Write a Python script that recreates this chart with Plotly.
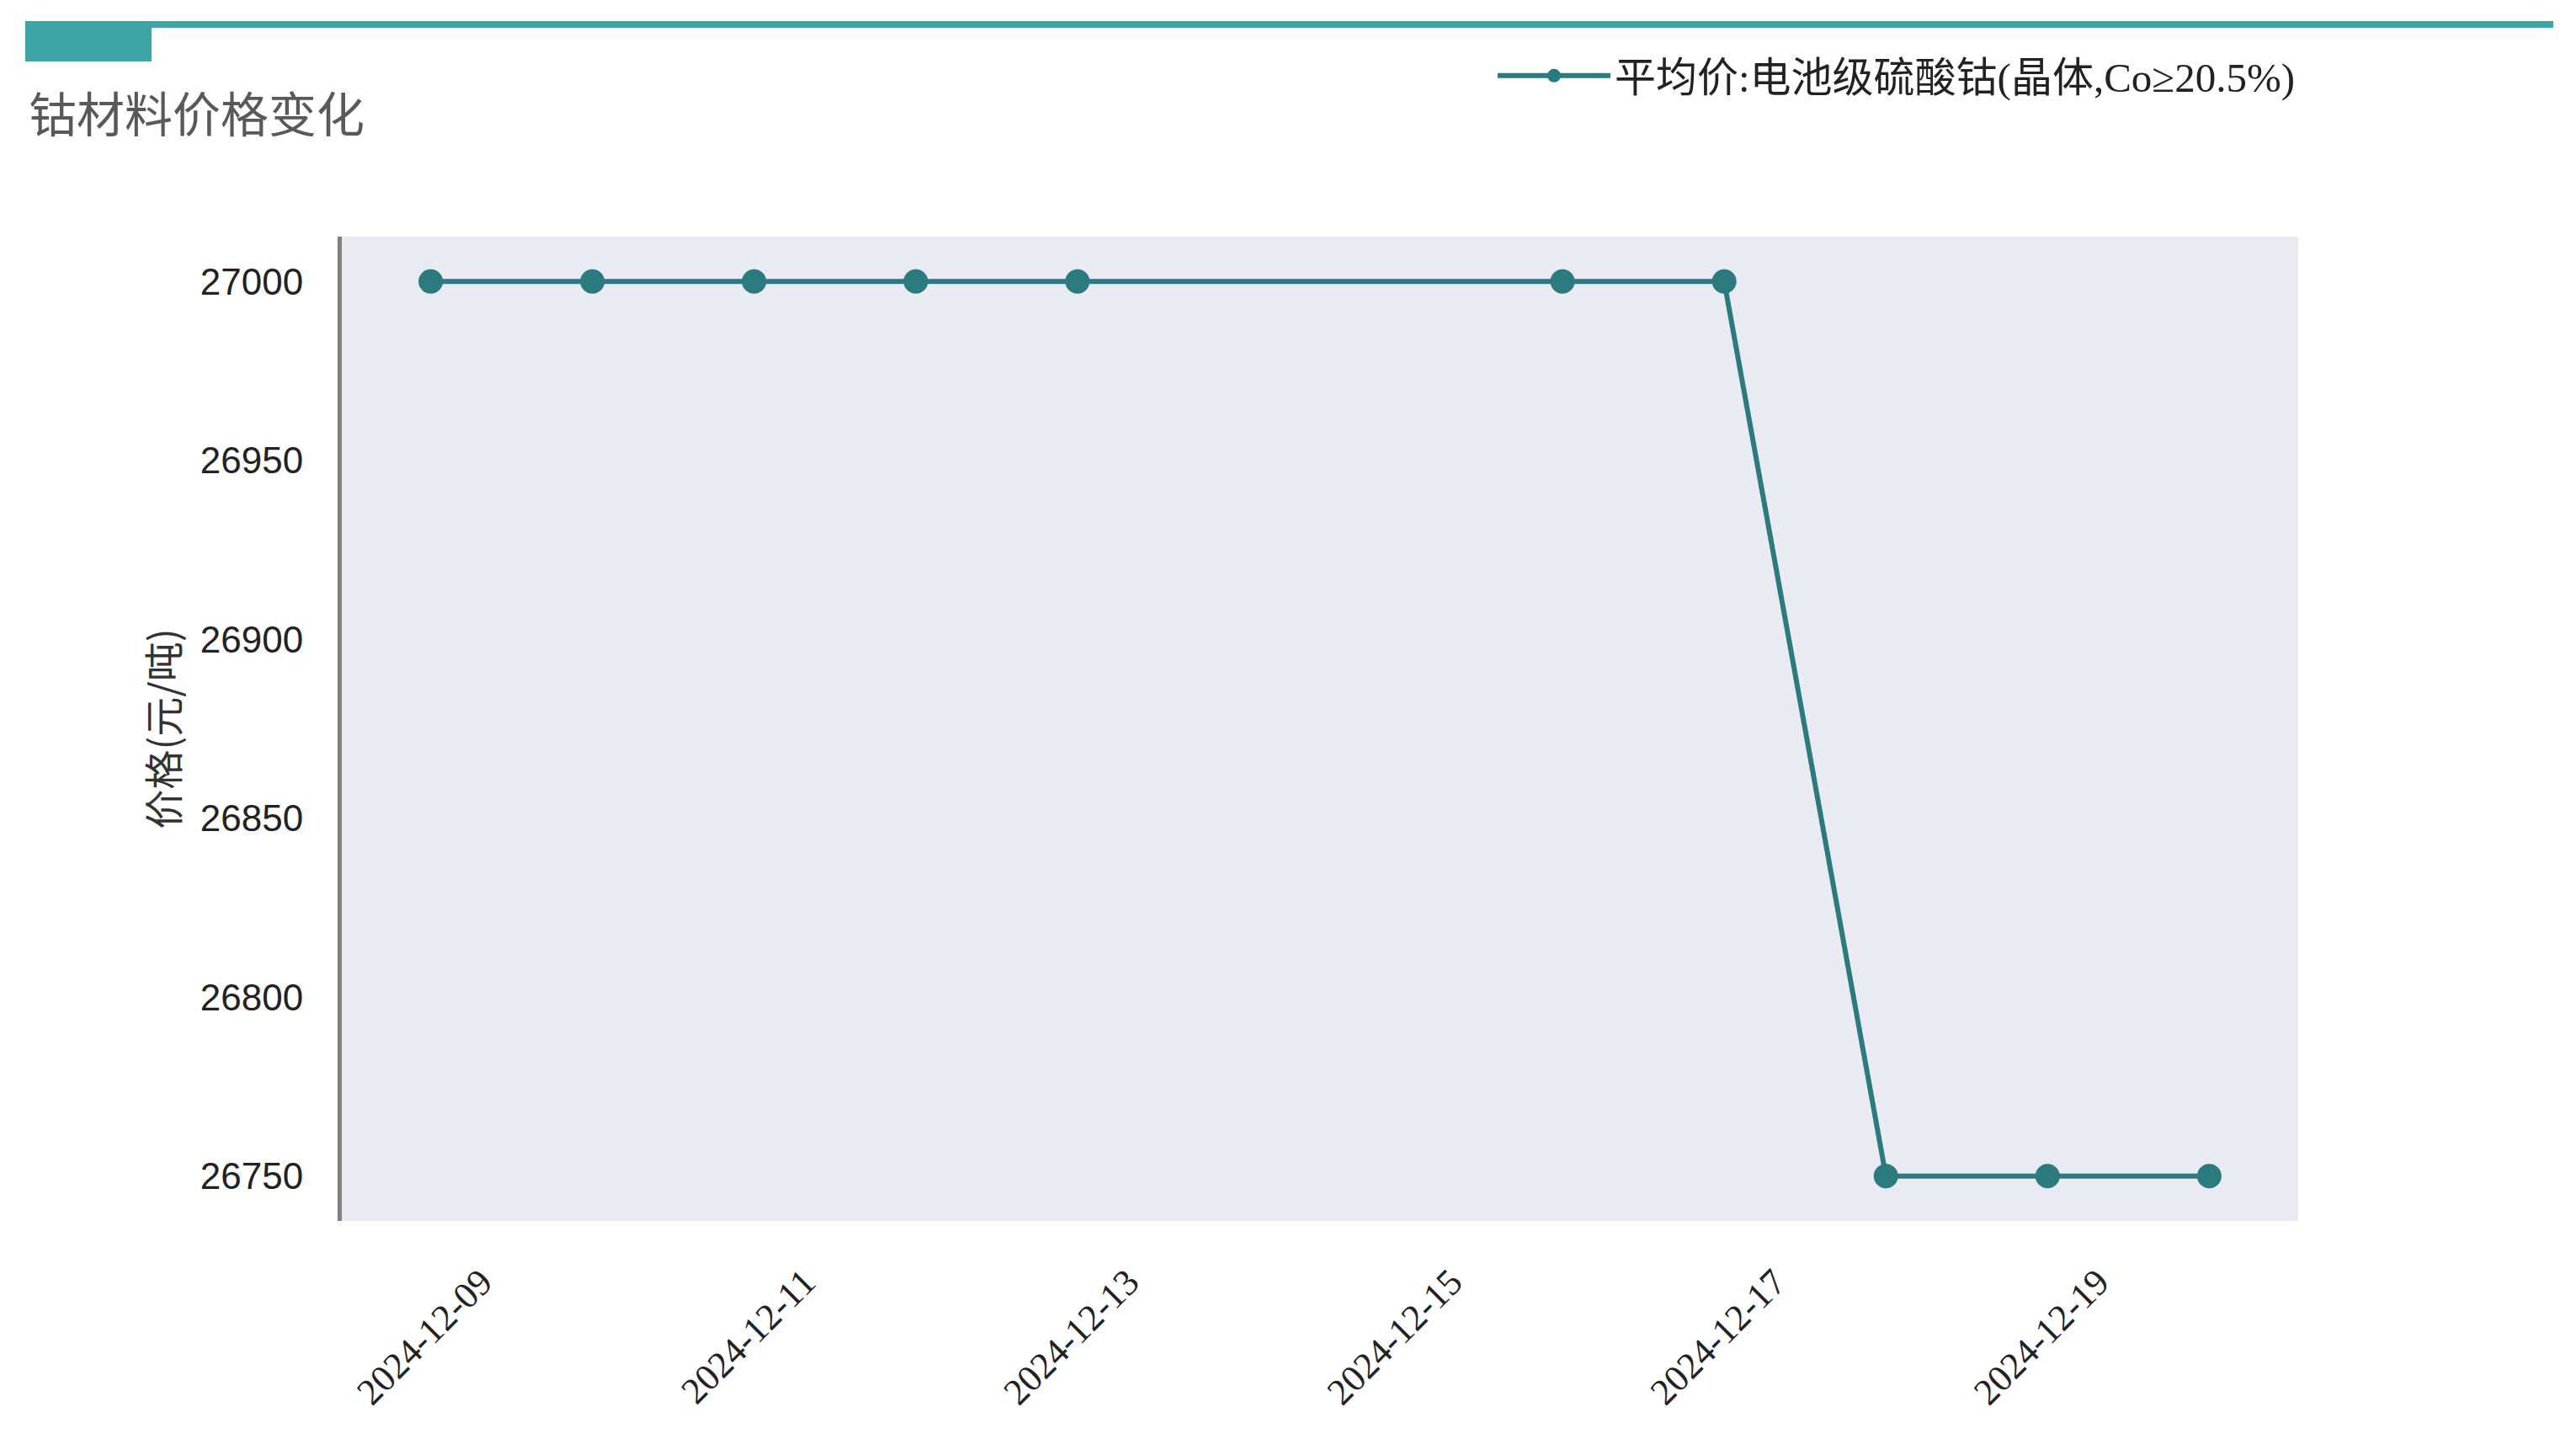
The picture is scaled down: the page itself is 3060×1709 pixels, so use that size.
import plotly.graph_objects as go

# data
dates = ["2024-12-09", "2024-12-10", "2024-12-11", "2024-12-12", "2024-12-13",
         "2024-12-16", "2024-12-17", "2024-12-18", "2024-12-19", "2024-12-20"]
prices = [27000, 27000, 27000, 27000, 27000, 27000, 27000, 26750, 26750, 26750]
series_name = "平均价:电池级硫酸钴(晶体,Co≥20.5%)"
x_ticks = ["2024-12-09", "2024-12-11", "2024-12-13", "2024-12-15", "2024-12-17", "2024-12-19"]
y_ticks = [26750, 26800, 26850, 26900, 26950, 27000]

W, H = 3060, 1709
teal = "#2B7A7F"
deco = "#3DA4A6"

fig = go.Figure()
fig.add_trace(
    go.Scatter(
        x=dates,
        y=prices,
        mode="lines+markers",
        name=series_name,
        line=dict(color=teal, width=6),
        marker=dict(color=teal, size=29),
    )
)

fig.update_layout(
    width=W,
    height=H,
    margin=dict(l=406, r=330, t=281, b=259, autoexpand=False),
    paper_bgcolor="white",
    plot_bgcolor="#EAEAF2",
    title=dict(
        text="钴材料价格变化",
        xref="container", yref="container",
        x=34 / W, xanchor="left",
        y=1 - 137 / H, yanchor="middle",
        font=dict(family="Noto Sans CJK SC", size=57, color="#595959"),
    ),
    showlegend=True,
    legend=dict(
        xref="container", yref="container",
        x=1774 / W, xanchor="left",
        y=1 - 90 / H, yanchor="middle",
        font=dict(family="Liberation Serif, Noto Sans CJK SC", size=49, color="#222222"),
        itemwidth=134,
        itemsizing="trace",
        bgcolor="rgba(0,0,0,0)",
    ),
    shapes=[
        # header decoration
        dict(type="rect", xref="paper", yref="paper", layer="above",
             x0=-376 / 2324, x1=2627 / 2324, y0=1 + 248 / 1169, y1=1 + 256 / 1169,
             fillcolor=deco, line=dict(width=0)),
        dict(type="rect", xref="paper", yref="paper", layer="above",
             x0=-376 / 2324, x1=-226 / 2324, y0=1 + 208 / 1169, y1=1 + 256 / 1169,
             fillcolor=deco, line=dict(width=0)),
    ],
)

fig.update_xaxes(
    type="date",
    range=["2024-12-08 10:48", "2024-12-20 13:12"],
    tickvals=x_ticks,
    tickformat="%Y-%m-%d",
    tickangle=-45,
    ticklabelshift=60,
    ticklabelstandoff=37,
    tickfont=dict(family="Liberation Serif", size=44, color="#222222"),
    showgrid=False,
    zeroline=False,
    showline=False,
)

fig.update_yaxes(
    range=[26737.5, 27012.5],
    tickvals=y_ticks,
    tickformat="d",
    tickfont=dict(family="Liberation Sans", size=44, color="#222222"),
    ticklabelstandoff=32,
    showgrid=False,
    zeroline=False,
    showline=True,
    linecolor="#808080",
    linewidth=5,
    title=dict(
        text="价格(元/吨)",
        standoff=12,
        font=dict(family="Noto Sans CJK SC", size=47, color="#333333"),
    ),
)

fig.write_html(
    "out.html",
    config={"displayModeBar": False},
    post_script="document.body.style.margin='0px';",
)
